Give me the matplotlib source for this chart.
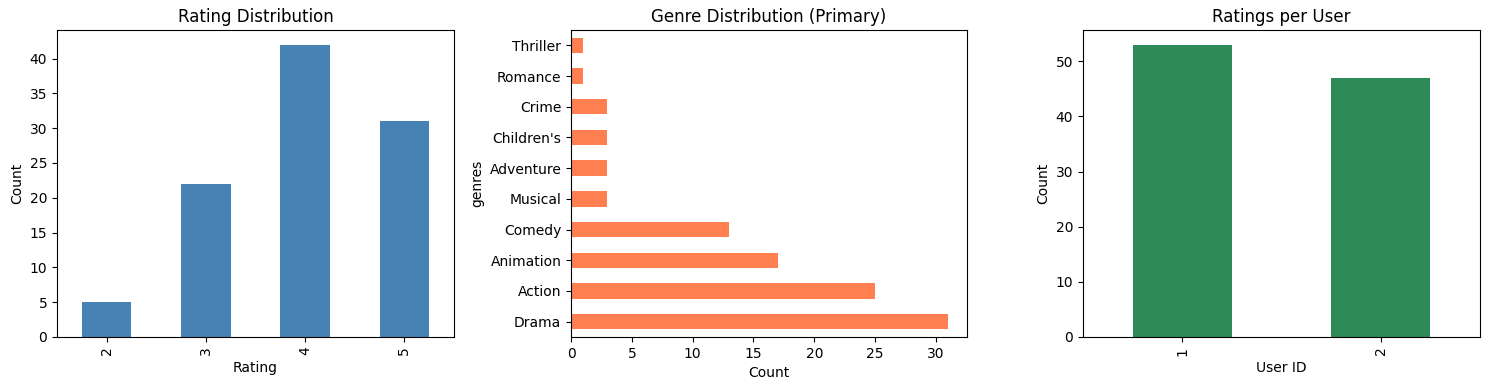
import matplotlib
matplotlib.use("Agg")
import matplotlib.pyplot as plt
import numpy as np

ratings = ["2", "3", "4", "5"]
rating_counts = [5, 22, 42, 31]

genres = ["Drama", "Action", "Animation", "Comedy", "Musical", "Adventure",
          "Children's", "Crime", "Romance", "Thriller"]
genre_counts = [31, 25, 17, 13, 3, 3, 3, 3, 1, 1]

users = ["1", "2"]
user_counts = [53, 47]

W, H = 1489, 390
fig = plt.figure(figsize=(W / 100, H / 100), dpi=100)

def box(x0, x1, y0=30, y1=337):
    return [x0 / W, 1 - y1 / H, (x1 - x0) / W, (y1 - y0) / H]

ax1 = fig.add_axes(box(57, 454))
ax2 = fig.add_axes(box(571, 967))
ax3 = fig.add_axes(box(1083, 1480))

ax = ax1
x = np.arange(len(ratings))
ax.bar(x, rating_counts, width=0.5, color="steelblue")
ax.set_xticks(x)
ax.set_xticklabels(ratings, rotation=90)
ax.set_xlim(-0.5, len(ratings) - 0.5)
ax.set_title("Rating Distribution")
ax.set_xlabel("Rating")
ax.set_ylabel("Count")

ax = ax2
y = np.arange(len(genres))
ax.barh(y, genre_counts, height=0.5, color="coral")
ax.set_yticks(y)
ax.set_yticklabels(genres)
ax.set_ylim(-0.5, len(genres) - 0.5)
ax.set_title("Genre Distribution (Primary)")
ax.set_xlabel("Count")
ax.set_ylabel("genres")

ax = ax3
x = np.arange(len(users))
ax.bar(x, user_counts, width=0.5, color="seagreen")
ax.set_xticks(x)
ax.set_xticklabels(users, rotation=90)
ax.set_xlim(-0.5, len(users) - 0.5)
ax.set_title("Ratings per User")
ax.set_xlabel("User ID")
ax.set_ylabel("Count")

fig.savefig("out.png", dpi=100)
